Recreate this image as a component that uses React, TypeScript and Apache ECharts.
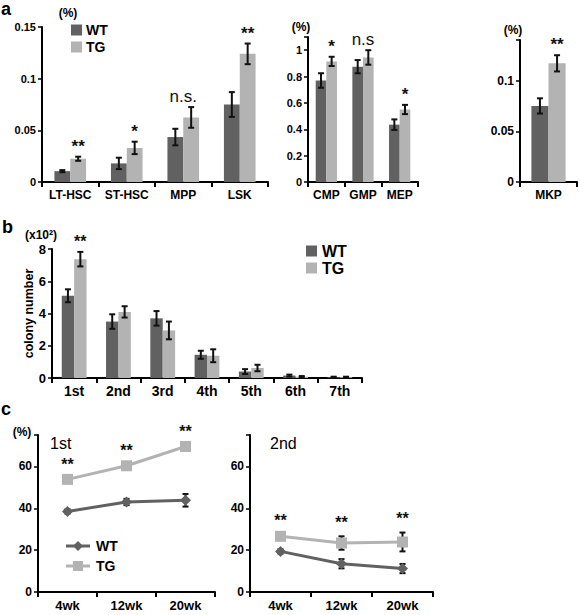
import React, { useEffect, useRef } from 'react';
import * as echarts from 'echarts';

const FONT = '"Liberation Sans", Arial, Helvetica, sans-serif';
const WT_COLOR = '#616161';
const TG_COLOR = '#b3b3b3';

// Panel a (left): hematopoietic stem/progenitor frequencies (%)
const a1Cats = ['LT-HSC', 'ST-HSC', 'MPP', 'LSK'];
const a1WT = [0.0105, 0.018, 0.0435, 0.075];
const a1WTErr = [0.001, 0.0055, 0.008, 0.012];
const a1TG = [0.0225, 0.033, 0.0625, 0.124];
const a1TGErr = [0.002, 0.006, 0.01, 0.01];
const a1Marks = ['**', '*', 'n.s.', '**'];

// Panel a (middle)
const a2Cats = ['CMP', 'GMP', 'MEP'];
const a2WT = [0.77, 0.875, 0.435];
const a2WTErr = [0.055, 0.05, 0.04];
const a2TG = [0.915, 0.945, 0.55];
const a2TGErr = [0.035, 0.055, 0.035];
const a2Marks = ['*', 'n.s', '*'];

// Panel a (right)
const a3Cats = ['MKP'];
const a3WT = [0.075];
const a3WTErr = [0.0075];
const a3TG = [0.117];
const a3TGErr = [0.008];
const a3Marks = ['**'];

// Panel b: colony number (x10^2)
const bCats = ['1st', '2nd', '3rd', '4th', '5th', '6th', '7th'];
const bWT = [5.1, 3.5, 3.7, 1.44, 0.4, 0.15, 0.05];
const bWTErr = [0.4, 0.45, 0.45, 0.25, 0.15, 0.06, 0.03];
const bTG = [7.37, 4.1, 2.95, 1.38, 0.62, 0.08, 0.05];
const bTGErr = [0.45, 0.35, 0.55, 0.4, 0.2, 0.04, 0.03];
const bMarks = ['**', '', '', '', '', '', ''];

// Panel c: engraftment (%)
const cCats = ['4wk', '12wk', '20wk'];
const c1WT = [38.5, 43, 43.8];
const c1WTErr = [1, 1.5, 3];
const c1TG = [53.8, 60.3, 69.5];
const c1TGErr = [0.8, 0.8, 1.5];
const c1Marks = ['**', '**', '**'];
const c2WT = [19.4, 13.5, 11.2];
const c2WTErr = [1, 2.2, 2.2];
const c2TG = [26.6, 23.4, 23.9];
const c2TGErr = [1, 3.2, 4.5];
const c2Marks = ['**', '**', '**'];

const xCat = (gi: number, data: string[], fontSize: number, margin = 7) => ({
  type: 'category',
  gridIndex: gi,
  data,
  boundaryGap: true,
  axisLine: { show: true, lineStyle: { color: '#000', width: 2 } },
  axisTick: { show: true, length: 5, interval: 0, alignWithLabel: false, lineStyle: { color: '#000', width: 2 } },
  axisLabel: { interval: 0, color: '#000', fontWeight: 'bold', fontSize, margin, fontFamily: FONT },
  splitLine: { show: false },
});

const yVal = (gi: number, max: number, interval: number, fontSize: number, extra: any = {}) => ({
  type: 'value',
  gridIndex: gi,
  min: 0,
  max,
  interval,
  axisLine: { show: true, lineStyle: { color: '#000', width: 2 } },
  axisTick: { show: true, length: 4, lineStyle: { color: '#000', width: 1.5 } },
  axisLabel: {
    color: '#000',
    fontWeight: 'bold',
    fontSize,
    margin: 6,
    fontFamily: FONT,
    formatter: (v: number) => {
      const r = v / interval;
      return Math.abs(r - Math.round(r)) < 1e-6 ? String(+v.toFixed(4)) : '';
    },
  },
  splitLine: { show: false },
  ...extra,
});

const errSeries = (gi: number, vals: number[], errs: number[], side: number, barFrac: number, z = 10) => ({
  type: 'custom',
  xAxisIndex: gi,
  yAxisIndex: gi,
  z,
  silent: true,
  data: vals.map((v, i) => [i, v - errs[i], v + errs[i]]),
  renderItem: (params: any, api: any) => {
    const lo = api.coord([api.value(0), api.value(1)]);
    const hi = api.coord([api.value(0), api.value(2)]);
    const band = api.size([1, 0])[0];
    const x = lo[0] + (side * band * barFrac) / 2;
    const cap = 3;
    const st = { stroke: '#111', lineWidth: 2 };
    return {
      type: 'group',
      children: [
        { type: 'line', shape: { x1: x, y1: lo[1], x2: x, y2: hi[1] }, style: st },
        { type: 'line', shape: { x1: x - cap, y1: lo[1], x2: x + cap, y2: lo[1] }, style: st },
        { type: 'line', shape: { x1: x - cap, y1: hi[1], x2: x + cap, y2: hi[1] }, style: st },
      ],
    };
  },
});

const annSeries = (
  gi: number,
  anchors: number[],
  marks: string[],
  barFrac: number,
  gap: number,
  starSize: number,
  nsSize: number,
  centered = false
) => ({
  type: 'custom',
  xAxisIndex: gi,
  yAxisIndex: gi,
  z: 11,
  silent: true,
  data: anchors.map((v, i) => [i, v]),
  renderItem: (params: any, api: any) => {
    const i = params.dataIndex;
    const t = marks[i];
    if (!t) return null;
    const p = api.coord([api.value(0), api.value(1)]);
    const band = api.size([1, 0])[0];
    const isNs = t.startsWith('n');
    const side = centered || isNs ? 0 : 1;
    return {
      type: 'text',
      x: p[0] + (side * band * barFrac) / 2,
      y: p[1] - gap,
      style: {
        text: t,
        fontSize: isNs ? nsSize : starSize,
        fontWeight: isNs ? 'normal' : 'bold',
        fontFamily: FONT,
        fill: '#111',
        align: 'center',
        verticalAlign: 'bottom',
      },
    };
  },
});

const maxTop = (a: number[], ae: number[], b: number[], be: number[]) =>
  a.map((v, i) => Math.max(v + ae[i], b[i] + be[i]));

const barPair = (gi: number, wt: number[], tg: number[], pct: string) => [
  { name: 'WT', type: 'bar', xAxisIndex: gi, yAxisIndex: gi, data: wt, barWidth: pct, barGap: '0%', itemStyle: { color: WT_COLOR }, silent: true },
  { name: 'TG', type: 'bar', xAxisIndex: gi, yAxisIndex: gi, data: tg, barWidth: pct, barGap: '0%', itemStyle: { color: TG_COLOR }, silent: true },
];

const linePair = (gi: number, wt: number[], tg: number[]) => [
  {
    name: 'WT line', type: 'line', xAxisIndex: gi, yAxisIndex: gi, data: wt,
    symbol: 'diamond', symbolSize: 11, lineStyle: { color: WT_COLOR, width: 3 },
    itemStyle: { color: WT_COLOR }, silent: true, z: 3,
  },
  {
    name: 'TG line', type: 'line', xAxisIndex: gi, yAxisIndex: gi, data: tg,
    symbol: 'rect', symbolSize: 11, lineStyle: { color: TG_COLOR, width: 3 },
    itemStyle: { color: TG_COLOR }, silent: true, z: 3,
  },
];

const txt = (x: number, y: number, text: string, fontSize: number, fontWeight = 'bold', align = 'left') => ({
  type: 'text',
  x,
  y,
  silent: true,
  style: { text, fontSize, fontWeight, fontFamily: FONT, fill: '#000', align, verticalAlign: 'middle' },
});

export default function App() {
  const ref = useRef<HTMLDivElement>(null);
  useEffect(() => {
    if (!ref.current) return;
    const chart = echarts.init(ref.current, undefined, { renderer: 'svg' });
    const a1Frac = 0.28, a2Frac = 0.29, a3Frac = 0.3, bFrac = 0.28;
    chart.setOption({
      animation: false,
      backgroundColor: '#fff',
      grid: [
        { left: 42, top: 27, width: 226, height: 155 },
        { left: 308, top: 37, width: 110, height: 145 },
        { left: 520, top: 40, width: 57, height: 142 },
        { left: 52, top: 249, width: 310, height: 129 },
        { left: 38, top: 435, width: 177, height: 157 },
        { left: 250, top: 435, width: 183, height: 157 },
      ],
      xAxis: [
        xCat(0, a1Cats, 12),
        xCat(1, a2Cats, 12),
        xCat(2, a3Cats, 12),
        xCat(3, bCats, 14, 6),
        xCat(4, cCats, 13),
        xCat(5, cCats, 13),
      ],
      yAxis: [
        yVal(0, 0.15, 0.05, 11),
        yVal(1, 1.1, 0.2, 11),
        yVal(2, 0.14, 0.05, 12),
        yVal(3, 8, 2, 13, {
          name: 'colony number',
          nameLocation: 'middle',
          nameRotate: 90,
          nameGap: 17,
          nameMoveOverlap: false,
          nameTextStyle: { color: '#000', fontWeight: 'bold', fontSize: 12.5, fontFamily: FONT },
        }),
        yVal(4, 75, 20, 12),
        yVal(5, 75, 20, 12),
      ],
      legend: [
        {
          data: ['WT', 'TG'], orient: 'vertical', left: 71, top: 23, icon: 'rect',
          itemWidth: 11, itemHeight: 11, itemGap: 3, padding: 0, selectedMode: false,
          textStyle: { color: '#000', fontWeight: 'bold', fontSize: 14, fontFamily: FONT, padding: [0, 0, 0, -1] },
        },
        {
          data: ['WT', 'TG'], orient: 'vertical', left: 306, top: 243, icon: 'rect',
          itemWidth: 11, itemHeight: 11, itemGap: 1, padding: 0, selectedMode: false,
          textStyle: { color: '#000', fontWeight: 'bold', fontSize: 16, fontFamily: FONT },
        },
      ],
      series: [
        ...barPair(0, a1WT, a1TG, '28%'),
        errSeries(0, a1WT, a1WTErr, -1, a1Frac),
        errSeries(0, a1TG, a1TGErr, 1, a1Frac),
        annSeries(0, maxTop(a1WT, a1WTErr, a1TG, a1TGErr), a1Marks, a1Frac, 2, 17, 17),

        ...barPair(1, a2WT, a2TG, '29%'),
        errSeries(1, a2WT, a2WTErr, -1, a2Frac),
        errSeries(1, a2TG, a2TGErr, 1, a2Frac),
        annSeries(1, maxTop(a2WT, a2WTErr, a2TG, a2TGErr), a2Marks, a2Frac, 2, 17, 17),

        ...barPair(2, a3WT, a3TG, '30%'),
        errSeries(2, a3WT, a3WTErr, -1, a3Frac),
        errSeries(2, a3TG, a3TGErr, 1, a3Frac),
        annSeries(2, maxTop(a3WT, a3WTErr, a3TG, a3TGErr), a3Marks, a3Frac, 2, 17, 17),

        ...barPair(3, bWT, bTG, '28%'),
        errSeries(3, bWT, bWTErr, -1, bFrac),
        errSeries(3, bTG, bTGErr, 1, bFrac),
        annSeries(3, maxTop(bWT, bWTErr, bTG, bTGErr), bMarks, bFrac, 2, 16, 16),

        ...linePair(4, c1WT, c1TG),
        errSeries(4, c1WT, c1WTErr, 0, 0, 2),
        errSeries(4, c1TG, c1TGErr, 0, 0, 2),
        annSeries(4, c1TG, c1Marks, 0, 7, 16, 16, true),

        ...linePair(5, c2WT, c2TG),
        errSeries(5, c2WT, c2WTErr, 0, 0, 2),
        errSeries(5, c2TG, c2TGErr, 0, 0, 2),
        annSeries(5, maxTop(c2WT, c2WTErr, c2TG, c2TGErr), c2Marks, 0, 6, 16, 16, true),
      ],
      graphic: [
        txt(1, 9, 'a', 18),
        txt(2, 227, 'b', 18),
        txt(1, 409, 'c', 18),
        txt(68, 13, '(%)', 12, 'bold', 'center'),
        txt(301, 27, '(%)', 12, 'bold', 'center'),
        txt(513, 30, '(%)', 12, 'bold', 'center'),
        txt(41, 235, '(x10²)', 12, 'bold', 'center'),
        txt(22, 432, '(%)', 12, 'bold', 'center'),
        txt(50, 443, '1st', 16, 'normal'),
        txt(270, 443, '2nd', 16, 'normal'),
        // legend for panel c
        { type: 'line', silent: true, shape: { x1: 66, y1: 546, x2: 90, y2: 546 }, style: { stroke: WT_COLOR, lineWidth: 3 } },
        { type: 'polygon', silent: true, shape: { points: [[78, 541], [83, 546], [78, 551], [73, 546]] }, style: { fill: WT_COLOR } },
        txt(96, 546, 'WT', 14),
        { type: 'line', silent: true, shape: { x1: 66, y1: 566, x2: 90, y2: 566 }, style: { stroke: TG_COLOR, lineWidth: 3 } },
        { type: 'rect', silent: true, shape: { x: 73, y: 561, width: 10, height: 10 }, style: { fill: TG_COLOR } },
        txt(96, 566, 'TG', 14),
      ],
    });
    return () => chart.dispose();
  }, []);
  return (
    <div
      ref={ref}
      style={{ position: 'fixed', left: 0, top: 0, width: 580, height: 615, background: '#fff' }}
    />
  );
}
